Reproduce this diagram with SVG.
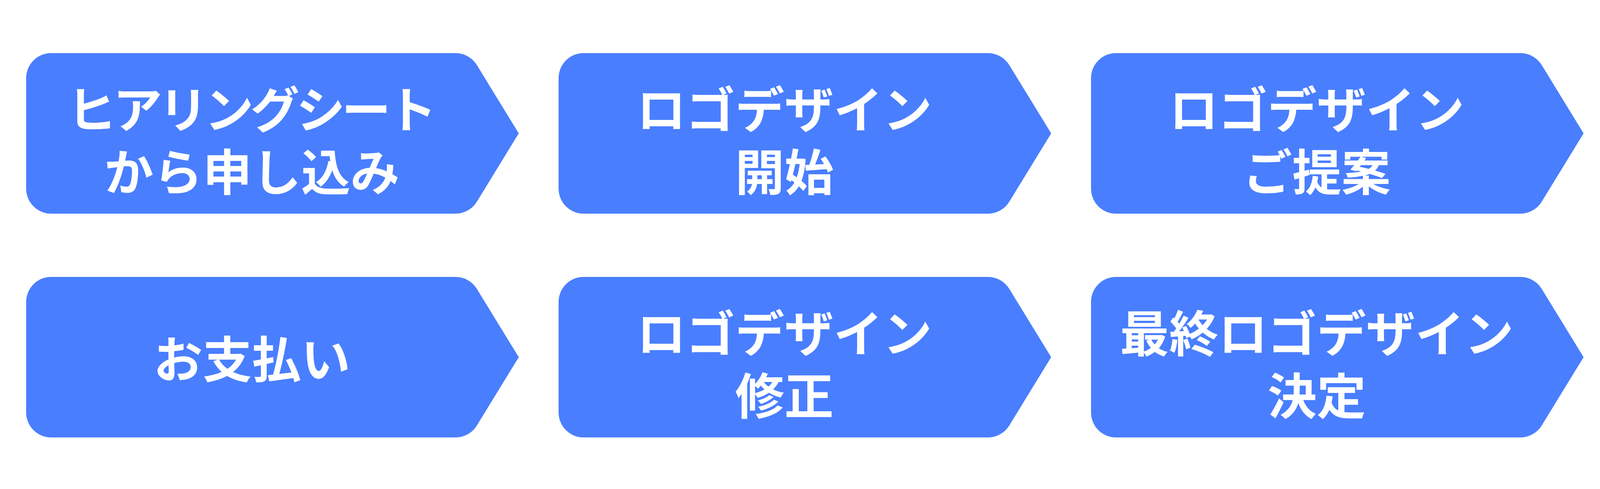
<svg xmlns="http://www.w3.org/2000/svg" xmlns:xlink="http://www.w3.org/1999/xlink" width="5504" height="1252" viewBox="0 0 5504 1252">
<style>
.step{fill:#497EFF;}
.goal{fill:#FF6361;}
.lbl{fill:#FFFFFF;font-family:"Noto Sans CJK JP","Noto Sans CJK SC",sans-serif;font-weight:700;font-size:126px;text-anchor:middle;dominant-baseline:central;}
.big{font-size:184px;}
</style>
<defs>
<path id="chev" d="M64,0 H1099.15 A64,64 0 0 1 1153.74,30.56 L1261,205.5 L1153.74,380.44 A64,64 0 0 1 1099.15,411 H64 A64,64 0 0 1 0,347 V64 A64,64 0 0 1 64,0 Z"/>
</defs>
<rect width="5504" height="1252" fill="#FFFFFF"/>
<g id="connectors"/>
<g id="n1">
<use xlink:href="#chev" class="step" x="67" y="136"/>
<text class="lbl" x="645" y="272.5" textLength="946" lengthAdjust="spacing">ヒアリングシート</text>
<text class="lbl" x="645" y="433">から申し込み</text>
</g>
<g id="n2">
<use xlink:href="#chev" class="step" x="1430" y="136"/>
<text class="lbl" x="2008" y="272.5">ロゴデザイン</text>
<text class="lbl" x="2008" y="433">開始</text>
</g>
<g id="n3">
<use xlink:href="#chev" class="step" x="2793" y="136"/>
<text class="lbl" x="3371" y="272.5">ロゴデザイン</text>
<text class="lbl" x="3371" y="433">ご提案</text>
</g>
<g id="n4">
<use xlink:href="#chev" class="step" x="4156" y="136"/>
<text class="lbl" x="4734" y="338.5">採用案決定</text>
</g>
<g id="n5">
<use xlink:href="#chev" class="step" x="67" y="709"/>
<text class="lbl" x="645" y="911.5">お支払い</text>
</g>
<g id="n6">
<use xlink:href="#chev" class="step" x="1430" y="709"/>
<text class="lbl" x="2008" y="845.5">ロゴデザイン</text>
<text class="lbl" x="2008" y="1006">修正</text>
</g>
<g id="n7">
<use xlink:href="#chev" class="step" x="2793" y="709"/>
<text class="lbl" x="3371" y="845.5">最終ロゴデザイン</text>
<text class="lbl" x="3371" y="1006">決定</text>
</g>
<g id="n8">
<rect class="goal" x="4156" y="709" width="1261" height="411" rx="64" ry="64"/>
<text class="lbl big" x="4786" y="911.5">納品</text>
</g>
</svg>
